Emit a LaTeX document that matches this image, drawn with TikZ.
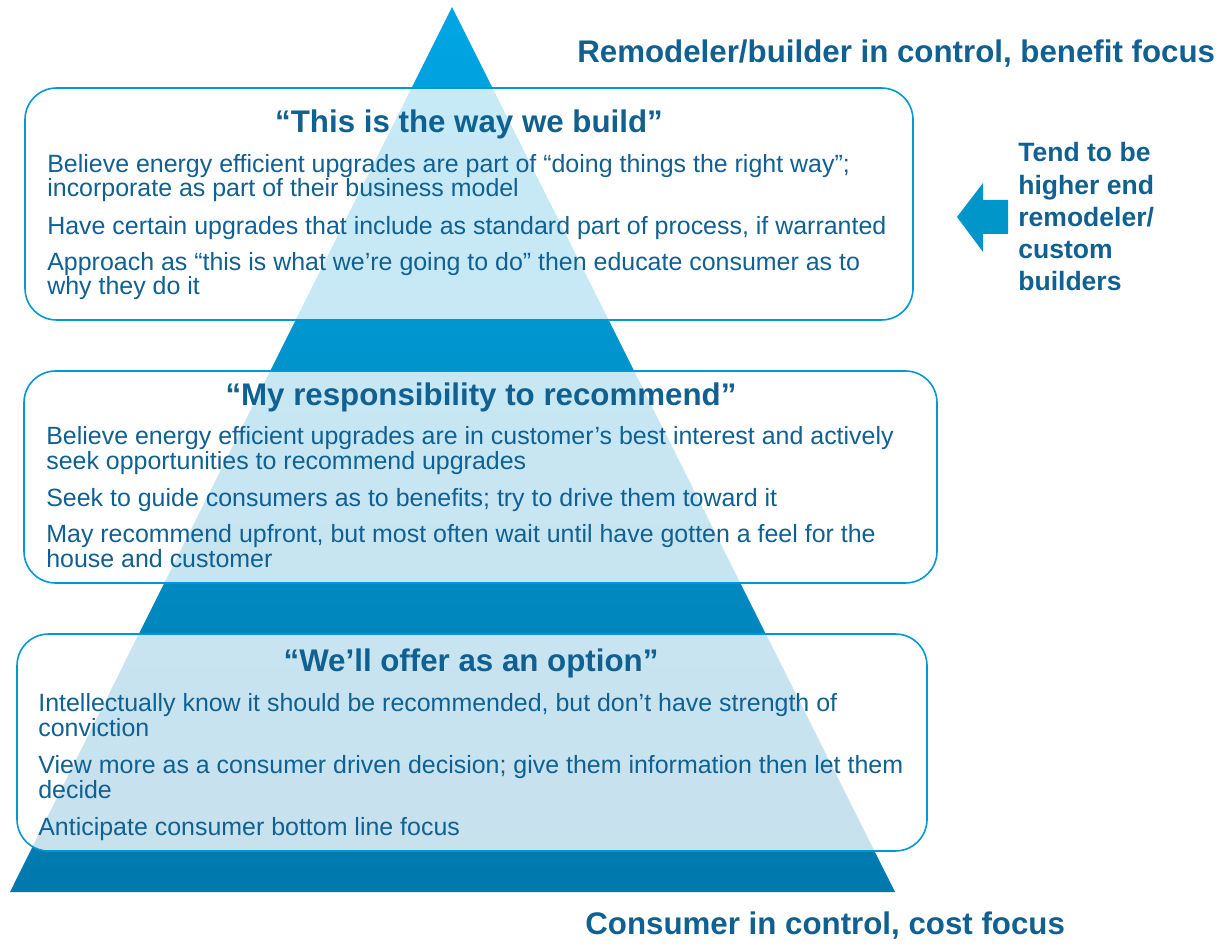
\documentclass[tikz,border=0pt]{standalone}
\usepackage{fontspec}
\setmainfont{Liberation Sans}
\usetikzlibrary{positioning}

\definecolor{txtblue}{RGB}{16,96,146}
\definecolor{pyrtop}{RGB}{0,166,227}
\definecolor{pyrbot}{RGB}{0,121,173}
\definecolor{boxline}{RGB}{0,152,212}
\definecolor{arrowblue}{RGB}{0,150,201}

\tikzset{
  tierbox/.style={draw=boxline, line width=0.9pt, fill=white, fill opacity=0.78, rounded corners=18pt},
  tiertitle/.style={font=\bfseries\fontsize{17.8}{20}\selectfont, text=txtblue, inner sep=0pt, anchor=base},
  tierline/.style={font=\fontsize{14.2}{13.8}\selectfont, text=txtblue, inner sep=0pt, anchor=base west, align=left},
  sidehead/.style={font=\bfseries\fontsize{17.8}{20}\selectfont, text=txtblue, inner sep=0pt, anchor=base west}
}

\begin{document}
\begin{tikzpicture}[x=0.02cm, y=-0.02cm]
  \useasboundingbox (0,0) rectangle (1226,945);

  % Pyramid
  \shade[top color=pyrtop, bottom color=pyrbot] (452,7) -- (895,892) -- (10,892) -- cycle;

  % Tier boxes
  \draw[tierbox] (25,88) rectangle (913,320);
  \draw[tierbox] (24,371) rectangle (937,583);
  \draw[tierbox] (17,634) rectangle (927,851);

  % Top tier (base = last line)
  \node[tiertitle] (t1) at (469,133) {“This is the way we build”};
  \node[tierline] (t1a) at (47,197) {Believe energy efficient upgrades are part of “doing things the right way”;\\incorporate as part of their business model};
  \node[tierline] (t1b) at (47,235) {Have certain upgrades that include as standard part of process, if warranted};
  \node[tierline] (t1c) at (47,295) {Approach as “this is what we’re going to do” then educate consumer as to\\why they do it};

  % Middle tier
  \node[tiertitle] (t2) at (481,405) {“My responsibility to recommend”};
  \node[tierline] (t2a) at (46,469) {Believe energy efficient upgrades are in customer’s best interest and actively\\seek opportunities to recommend upgrades};
  \node[tierline] (t2b) at (46,506) {Seek to guide consumers as to benefits; try to drive them toward it};
  \node[tierline] (t2c) at (46,567) {May recommend upfront, but most often wait until have gotten a feel for the\\house and customer};

  % Bottom tier
  \node[tiertitle] (t3) at (471,671) {“We’ll offer as an option”};
  \node[tierline] (t3a) at (38,736) {Intellectually know it should be recommended, but don’t have strength of\\conviction};
  \node[tierline] (t3b) at (38,798) {View more as a consumer driven decision; give them information then let them\\decide};
  \node[tierline] (t3c) at (38,835) {Anticipate consumer bottom line focus};

  % Side labels
  \node[sidehead] (top) at (577,63) {Remodeler/builder in control, benefit focus};
  \node[sidehead] (bottom) at (585,934) {Consumer in control, cost focus};

  \fill[arrowblue] (957,217) -- (983,183) -- (983,200) -- (1008,200) -- (1008,234) -- (983,234) -- (983,252) -- cycle;
  \node[sidehead, font=\bfseries\fontsize{15.1}{18.4}\selectfont, align=left] (who) at (1018,291) {Tend to be\\higher end\\remodeler/\\custom\\builders};
\end{tikzpicture}
\end{document}
